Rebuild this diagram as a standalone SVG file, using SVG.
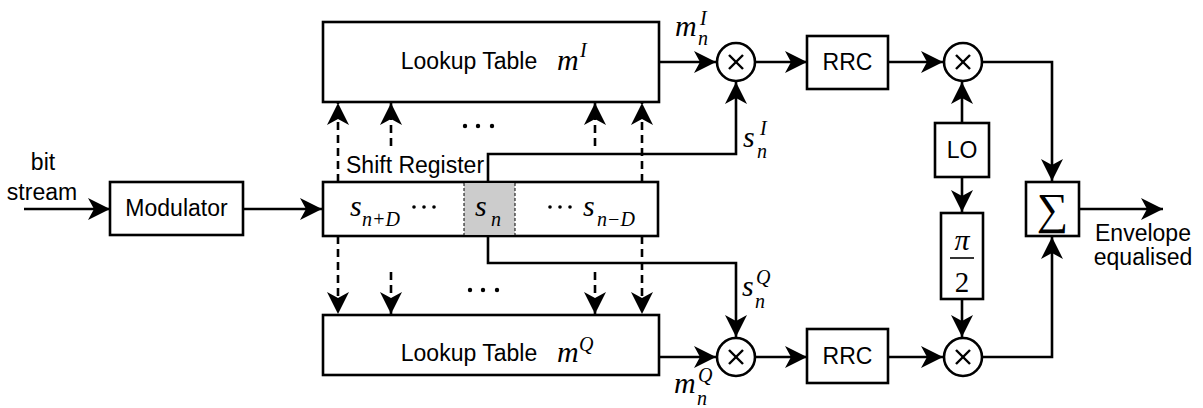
<svg xmlns="http://www.w3.org/2000/svg" width="1203" height="408" viewBox="0 0 1203 408">
  <defs>
    <marker id="arrow" markerUnits="userSpaceOnUse" markerWidth="24" markerHeight="24" viewBox="0 0 24 24" refX="22" refY="12" orient="auto">
      <path d="M0,1 L22,12 L0,23 L6,12 Z" fill="#000"/>
    </marker>
    <style>
      .box { fill: #fff; stroke: #000; stroke-width: 2.6; }
      .wire { fill: none; stroke: #000; stroke-width: 2.6; }
      .dash { fill: none; stroke: #000; stroke-width: 2.6; stroke-dasharray: 8 5; }
      .arr { marker-end: url(#arrow); }
      .lbl { font-family: "Liberation Sans", Arial, sans-serif; font-size: 23px; fill: #000; }
      .math { font-family: "Liberation Serif", "Times New Roman", serif; font-style: italic; font-size: 30px; fill: #000; }
      .sm { font-size: 20px; }
      .dot { fill: #000; }
      .cross { stroke: #000; stroke-width: 2.4; }
    </style>
  </defs>

  <!-- connectors -->
  <g id="connectors">
    <!-- input bit stream -->
    <line class="wire arr" x1="24" y1="209" x2="110" y2="209"/>
    <line class="wire arr" x1="243" y1="209" x2="322" y2="209"/>

    <!-- shift register taps up to the I lookup table -->
    <line class="dash arr" x1="338" y1="182" x2="338" y2="103"/>
    <line class="dash arr" x1="391" y1="146" x2="391" y2="103"/>
    <line class="dash arr" x1="595" y1="146" x2="595" y2="103"/>
    <line class="dash arr" x1="642" y1="182" x2="642" y2="103"/>

    <!-- shift register taps down to the Q lookup table -->
    <line class="dash arr" x1="338" y1="236" x2="338" y2="314"/>
    <line class="dash arr" x1="391" y1="272" x2="391" y2="314"/>
    <line class="dash arr" x1="595" y1="272" x2="595" y2="314"/>
    <line class="dash arr" x1="642" y1="236" x2="642" y2="314"/>

    <!-- current symbol to the multipliers -->
    <polyline class="wire arr" points="488,182 488,154 736,154 736,82"/>
    <polyline class="wire arr" points="488,236 488,263 736,263 736,337"/>

    <!-- I branch -->
    <line class="wire arr" x1="659" y1="62" x2="716" y2="62"/>
    <line class="wire arr" x1="755" y1="62" x2="807" y2="62"/>
    <line class="wire arr" x1="888" y1="62" x2="943" y2="62"/>
    <polyline class="wire arr" points="982,62 1052,62 1052,181"/>

    <!-- Q branch -->
    <line class="wire arr" x1="659" y1="357" x2="716" y2="357"/>
    <line class="wire arr" x1="755" y1="357" x2="807" y2="357"/>
    <line class="wire arr" x1="888" y1="357" x2="943" y2="357"/>
    <polyline class="wire arr" points="982,357 1052,357 1052,237"/>

    <!-- local oscillator -->
    <line class="wire arr" x1="962" y1="123" x2="962" y2="82"/>
    <line class="wire arr" x1="962" y1="177" x2="962" y2="212"/>
    <line class="wire arr" x1="962" y1="299" x2="962" y2="337"/>

    <!-- output -->
    <line class="wire arr" x1="1079" y1="209" x2="1163" y2="209"/>
  </g>

  <!-- input label -->
  <g id="input">
    <text class="lbl" x="43" y="170" text-anchor="middle">bit</text>
    <text class="lbl" x="42" y="200" text-anchor="middle">stream</text>
  </g>

  <g id="modulator">
    <rect class="box" x="110" y="182" width="133" height="53"/>
    <text class="lbl" x="176.5" y="216" text-anchor="middle">Modulator</text>
  </g>

  <g id="lut-i">
    <rect class="box" x="323" y="22" width="336" height="80"/>
    <text class="lbl" x="469" y="69" text-anchor="middle">Lookup Table</text>
    <text class="math" x="557" y="70">m<tspan class="sm" x="580" y="57">I</tspan></text>
  </g>

  <g id="lut-q">
    <rect class="box" x="323" y="315" width="336" height="60"/>
    <text class="lbl" x="469" y="361" text-anchor="middle">Lookup Table</text>
    <text class="math" x="557" y="362">m<tspan class="sm" x="579" y="351">Q</tspan></text>
  </g>

  <!-- ellipsis between the taps -->
  <g id="tap-dots">
    <circle class="dot" cx="465" cy="126" r="2.2"/>
    <circle class="dot" cx="478" cy="126" r="2.2"/>
    <circle class="dot" cx="492" cy="126" r="2.2"/>
    <circle class="dot" cx="470" cy="290" r="2.2"/>
    <circle class="dot" cx="483" cy="290" r="2.2"/>
    <circle class="dot" cx="497" cy="290" r="2.2"/>
  </g>

  <g id="shift-register">
    <text class="lbl" x="346" y="173">Shift Register</text>
    <rect class="box" x="323" y="182" width="335" height="54"/>
    <rect x="464" y="183.3" width="51" height="51.4" fill="#cccccc"/>
    <line x1="464" y1="183" x2="464" y2="235" stroke="#000" stroke-width="1" stroke-dasharray="3 2"/>
    <line x1="515" y1="183" x2="515" y2="235" stroke="#000" stroke-width="1" stroke-dasharray="3 2"/>
    <text class="math" x="350" y="216">s<tspan class="sm" x="362" y="226">n+D</tspan></text>
    <circle class="dot" cx="414" cy="207" r="1.8"/>
    <circle class="dot" cx="424" cy="207" r="1.8"/>
    <circle class="dot" cx="434" cy="207" r="1.8"/>
    <text class="math" x="475" y="216">s<tspan class="sm" x="491" y="226">n</tspan></text>
    <circle class="dot" cx="550" cy="207" r="1.8"/>
    <circle class="dot" cx="560" cy="207" r="1.8"/>
    <circle class="dot" cx="570" cy="207" r="1.8"/>
    <text class="math" x="583" y="216">s<tspan class="sm" x="597" y="226">n−D</tspan></text>
  </g>

  <!-- signal labels -->
  <g id="labels">
    <text class="math" x="675" y="36">m<tspan class="sm" x="698" y="45">n</tspan><tspan class="sm" x="700" y="25">I</tspan></text>
    <text class="math" x="743" y="147">s<tspan class="sm" x="757" y="158">n</tspan><tspan class="sm" x="760" y="135">I</tspan></text>
    <text class="math" x="742" y="296">s<tspan class="sm" x="755" y="308">n</tspan><tspan class="sm" x="756" y="284">Q</tspan></text>
    <text class="math" x="674" y="393">m<tspan class="sm" x="697" y="405">n</tspan><tspan class="sm" x="698" y="382">Q</tspan></text>
  </g>

  <g id="mult-i1">
    <circle class="box" cx="736" cy="62" r="19"/>
    <line class="cross" x1="729" y1="55" x2="743" y2="69"/>
    <line class="cross" x1="743" y1="55" x2="729" y2="69"/>
  </g>

  <g id="mult-q1">
    <circle class="box" cx="736" cy="357" r="19"/>
    <line class="cross" x1="729" y1="350" x2="743" y2="364"/>
    <line class="cross" x1="743" y1="350" x2="729" y2="364"/>
  </g>

  <g id="rrc-i">
    <rect class="box" x="807" y="36" width="81" height="53"/>
    <text class="lbl" x="847.5" y="70" text-anchor="middle">RRC</text>
  </g>

  <g id="rrc-q">
    <rect class="box" x="807" y="329" width="81" height="54"/>
    <text class="lbl" x="847.5" y="364" text-anchor="middle">RRC</text>
  </g>

  <g id="mult-i2">
    <circle class="box" cx="963" cy="62" r="19"/>
    <line class="cross" x1="956" y1="55" x2="970" y2="69"/>
    <line class="cross" x1="970" y1="55" x2="956" y2="69"/>
  </g>

  <g id="mult-q2">
    <circle class="box" cx="963" cy="357" r="19"/>
    <line class="cross" x1="956" y1="350" x2="970" y2="364"/>
    <line class="cross" x1="970" y1="350" x2="956" y2="364"/>
  </g>

  <g id="lo">
    <rect class="box" x="935" y="123" width="54" height="54"/>
    <text class="lbl" x="962" y="158" text-anchor="middle">LO</text>
  </g>

  <g id="phase-shift">
    <rect class="box" x="941" y="213" width="42" height="86"/>
    <text class="math" x="962" y="250" text-anchor="middle">π</text>
    <line x1="950" y1="258" x2="974" y2="258" stroke="#000" stroke-width="1.6"/>
    <text x="962" y="292" text-anchor="middle" font-family="Liberation Serif, Times New Roman, serif" font-size="29">2</text>
  </g>

  <g id="sum">
    <rect class="box" x="1026" y="182" width="53" height="54"/>
    <text x="1052.5" y="224" text-anchor="middle" font-family="Liberation Serif, Times New Roman, serif" font-size="44">∑</text>
  </g>

  <g id="output">
    <text class="lbl" x="1143" y="241" text-anchor="middle">Envelope</text>
    <text class="lbl" x="1143" y="265" text-anchor="middle">equalised</text>
  </g>
</svg>
